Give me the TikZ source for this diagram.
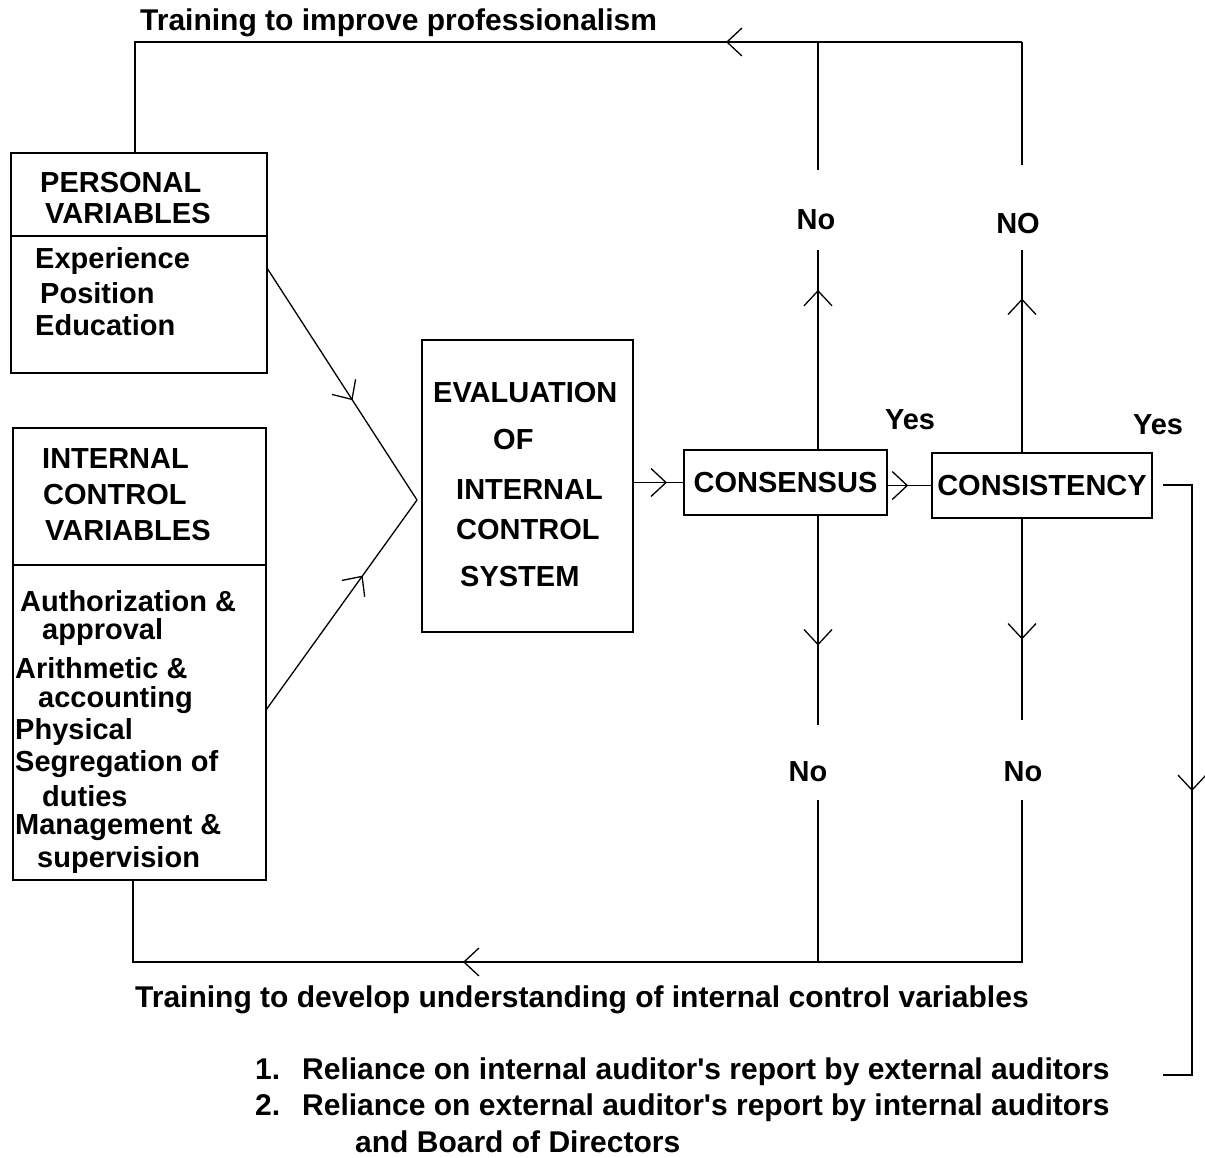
\documentclass[tikz,border=0pt]{standalone}
\usepackage{fontspec}
\setmainfont{Liberation Sans}[Ligatures=TeXOff]
\usetikzlibrary{arrows.meta,decorations.markings}
\begin{document}
\begin{tikzpicture}[x=1pt,y=-1pt,
  every node/.style={font=\fontsize{29}{34}\selectfont\bfseries},
  caption/.style={font=\fontsize{30}{36}\selectfont\bfseries},
  box/.style={draw,line width=1.3pt,inner sep=0pt},
  line/.style={line width=1.3pt},
  lbl/.style={inner sep=0pt,anchor=west},
  midarrow/.style={postaction={decorate},decoration={markings,
    mark=at position #1 with {\arrow{Straight Barb[length=15pt,width=28pt,line width=1.3pt]}}}}]
\path[use as bounding box] (0,0) rectangle (1205,1157);

% boxes
\node[box,minimum width=256pt,minimum height=220pt] (pv) at (139,263) {};
\draw[line] (11,236) -- (267,236);
\node[box,minimum width=253pt,minimum height=452pt] (icv) at (139.5,654) {};
\draw[line] (13,565) -- (266,565);
\node[box,minimum width=211pt,minimum height=292pt] (eval) at (527.5,486) {};
\node[box,minimum width=203pt,minimum height=65pt] (cons) at (785.5,482.5) {};
\node[box,minimum width=220pt,minimum height=65pt] (consist) at (1042,485.5) {};

% box texts
\node[lbl] (pv1) at (40,183) {PERSONAL};
\node[lbl] (pv2) at (45,214) {VARIABLES};
\node[lbl] (pv3) at (35,261) {Experience};
\node[lbl] (pv4) at (40,293) {Position};
\node[lbl] (pv5) at (35,325) {Education};

\node[lbl] (ic1) at (42,459) {INTERNAL};
\node[lbl] (ic2) at (43,495) {CONTROL};
\node[lbl] (ic3) at (45,531) {VARIABLES};
\node[lbl] (ic4) at (20,601) {Authorization \&};
\node[lbl] (ic5) at (42,632) {approval};
\node[lbl] (ic6) at (15,668) {Arithmetic \&};
\node[lbl] (ic7) at (38,700) {accounting};
\node[lbl] (ic8) at (15,732) {Physical};
\node[lbl] (ic9) at (15,764) {Segregation of};
\node[lbl] (ic10) at (42,796) {duties};
\node[lbl] (ic11) at (15,828) {Management \&};
\node[lbl] (ic12) at (37,860) {supervision};

\node[lbl] (ev1) at (433,393) {EVALUATION};
\node[lbl] (ev2) at (493,440) {OF};
\node[lbl] (ev3) at (456,490) {INTERNAL};
\node[lbl] (ev4) at (456,530) {CONTROL};
\node[lbl] (ev5) at (460,577) {SYSTEM};

\node[inner sep=0pt] (consT) at (cons) {CONSENSUS};
\node[inner sep=0pt] (consistT) at (consist) {CONSISTENCY};

% decision labels
\node[inner sep=0pt] (no1) at (816,220) {No};
\node[inner sep=0pt] (no2) at (1018,224) {NO};
\node[inner sep=0pt] (no3) at (808,772) {No};
\node[inner sep=0pt] (no4) at (1023,772) {No};
\node[inner sep=0pt] (yes1) at (910,420) {Yes};
\node[inner sep=0pt] (yes2) at (1158,425) {Yes};

% feedback captions and outcomes
\node[lbl,caption] (top) at (140,23) {Training to improve professionalism};
\node[lbl,caption] (bot) at (135,1000) {Training to develop understanding of internal control variables};
\node[lbl,caption] (r1) at (255,1072) {\makebox[47pt][l]{1.}Reliance on internal auditor's report by external auditors};
\node[lbl,caption] (r2) at (255,1108) {\makebox[47pt][l]{2.}Reliance on external auditor's report by internal auditors};
\node[lbl,caption] (r3) at (355,1142) {and Board of Directors};

% junction points
\coordinate (apex) at (417,500);
\coordinate (pvout) at (267,268);
\coordinate (icvout) at (266,710);
\coordinate (tl) at (135,42);
\coordinate (tm) at (818,42);
\coordinate (tr) at (1022,42);
\coordinate (bl) at (133,962);
\coordinate (bm) at (818,962);
\coordinate (br) at (1022,962);
\coordinate (a1) at (818,250);
\coordinate (a2) at (818,170);
\coordinate (b1) at (1022,250);
\coordinate (b2) at (1022,165);
\coordinate (c1) at (818,725);
\coordinate (c2) at (818,800);
\coordinate (d1) at (1022,720);
\coordinate (d2) at (1022,800);
\coordinate (yo) at (1163,485);
\coordinate (rc1) at (1192,485);
\coordinate (rc2) at (1192,1075);
\coordinate (rend) at (1163,1075);

% inputs into evaluation
\draw[line,midarrow=0.57] (pvout) -- (apex);
\draw[line,midarrow=0.64] (icvout) -- (apex);
\draw[line,midarrow=0.67] (eval.east |- cons.west) -- (cons.west);
\draw[line,midarrow=0.47] (cons.east |- consist.west) -- (consist.west);

% "No" branches upward
\draw[line,midarrow=0.8] (cons.north -| a1) -- (a1);
\draw[line] (a2) -- (tm);
\draw[line,midarrow=0.76] (consist.north -| b1) -- (b1);
\draw[line] (b2) -- (tr);
\draw[line,midarrow=296pt] (tr) -- (tl) -- (tl |- pv.north);

% "No" branches downward
\draw[line,midarrow=0.62] (cons.south -| c1) -- (c1);
\draw[line] (c2) -- (bm);
\draw[line,midarrow=0.6] (consist.south -| d1) -- (d1);
\draw[line,midarrow=721pt] (d2) -- (br) -- (bl) -- (bl |- icv.south);

% "Yes" outcome
\draw[line,midarrow=335pt] (yo) -- (rc1) -- (rc2) -- (rend);
\end{tikzpicture}
\end{document}
